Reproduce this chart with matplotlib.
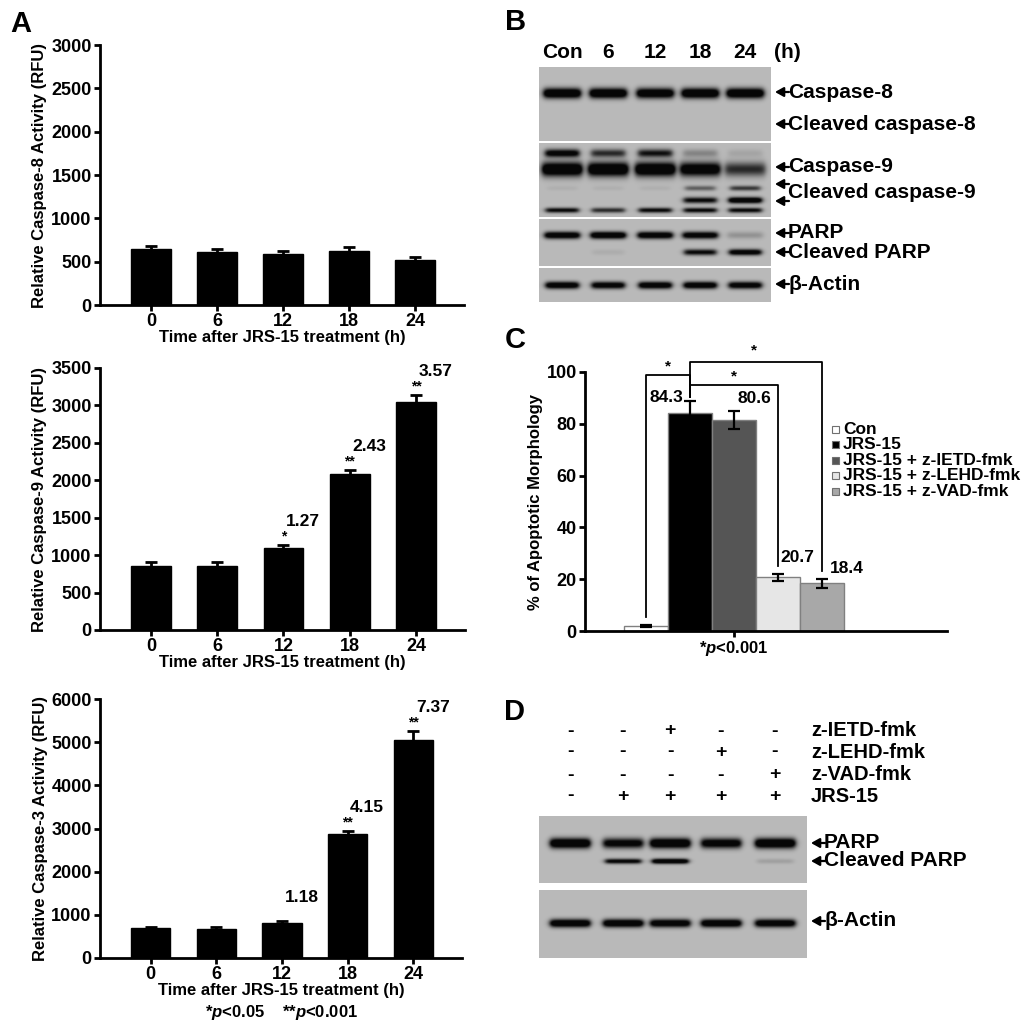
import numpy as np
import matplotlib.pyplot as plt
from matplotlib.patches import Rectangle

plt.rcParams['font.family'] = ['Liberation Sans', 'DejaVu Sans']
plt.rcParams['font.weight'] = 'bold'
plt.rcParams['mathtext.fontset'] = 'custom'
plt.rcParams['mathtext.rm'] = 'Liberation Sans:bold'
plt.rcParams['mathtext.it'] = 'Liberation Sans:italic:bold'

# --- panel A: caspase activity (RFU) ---
hours = ['0', '6', '12', '18', '24']
casp8_mean = [650, 610, 590, 620, 515]
casp8_err = [30, 40, 30, 55, 35]
casp9_mean = [860, 860, 1090, 2085, 3050]
casp9_err = [45, 45, 45, 55, 90]
casp9_fold = ['', '', '1.27', '2.43', '3.57']
casp9_sig = ['', '', '*', '**', '**']
casp3_mean = [700, 670, 815, 2870, 5050]
casp3_err = [25, 55, 45, 75, 210]
casp3_fold = ['', '', '1.18', '4.15', '7.37']
casp3_sig = ['', '', '', '**', '**']

# --- panel B: western blot, band intensity per lane (0 = none, 1 = saturated) ---
lanes_b = ['Con', '6', '12', '18', '24']
casp8_band = [1.0, 1.0, 0.95, 1.0, 1.0]
casp9_upper_band = [0.8, 0.55, 0.65, 0.2, 0.08]
casp9_band = [1.0, 1.0, 1.0, 0.9, 0.55]
cl_casp9_a_band = [0.04, 0.04, 0.04, 0.35, 0.5]
cl_casp9_b_band = [0.0, 0.0, 0.0, 0.7, 0.95]
casp9_low_band = [0.7, 0.55, 0.7, 0.7, 0.7]
parp_b_band = [0.9, 0.95, 0.9, 0.85, 0.15]
cl_parp_b_band = [0.0, 0.05, 0.0, 0.7, 0.85]
actin_b_band = [0.9, 0.85, 0.9, 0.9, 0.85]

# --- panel C: apoptotic morphology (%) ---
groups_c = ['Con', 'JRS-15', 'JRS-15 + z-IETD-fmk', 'JRS-15 + z-LEHD-fmk', 'JRS-15 + z-VAD-fmk']
apop_mean = [2.0, 84.3, 81.5, 20.7, 18.4]
apop_err = [0.4, 4.4, 3.6, 1.3, 1.7]
apop_labels = ['', '84.3', '80.6', '20.7', '18.4']
colors_c = ['white', 'black', '#555555', '#e6e6e6', '#a8a8a8']

# --- panel D: inhibitor treatments and blot ---
treatments_d = ['z-IETD-fmk', 'z-LEHD-fmk', 'z-VAD-fmk', 'JRS-15']
signs_d = [['-', '-', '+', '-', '-'],
           ['-', '-', '-', '+', '-'],
           ['-', '-', '-', '-', '+'],
           ['-', '+', '+', '+', '+']]
parp_d_band = [1.0, 0.8, 1.0, 0.85, 1.0]
cl_parp_d_band = [0.0, 0.75, 0.95, 0.0, 0.1]
actin_d_band = [0.95, 0.95, 0.9, 0.95, 0.9]

W, H = 1024, 1032
fig = plt.figure(figsize=(10.24, 10.32), dpi=100)
bg_ax = fig.add_axes([0, 0, 1, 1])
bg_ax.set_xlim(0, W)
bg_ax.set_ylim(H, 0)
bg_ax.set_autoscale_on(False)
bg_ax.axis('off')


def px_axes(left, top, right, bottom):
    return fig.add_axes([left / W, 1 - bottom / H, (right - left) / W, (bottom - top) / H], facecolor='none')


def style_axes(ax):
    for s in ['top', 'right']:
        ax.spines[s].set_visible(False)
    for s in ['left', 'bottom']:
        ax.spines[s].set_linewidth(2)
    ax.tick_params(width=2, length=4, labelsize=13, pad=2)
    for lab in ax.get_xticklabels() + ax.get_yticklabels():
        lab.set_fontweight('bold')


def activity_panel(box, mean, err, ymax, ystep, ylabel, fold=None, sig=None):
    ax = px_axes(*box)
    x = np.arange(len(hours))
    ax.bar(x, mean, width=0.6, color='black', edgecolor='black')
    ax.errorbar(x, mean, yerr=err, fmt='none', ecolor='black', elinewidth=2, capsize=4, capthick=2)
    ax.set_xlim(-0.77, 4.74)
    ax.set_ylim(0, ymax)
    ax.set_yticks(np.arange(0, ymax + 1, ystep))
    ax.set_xticks(x)
    ax.set_xticklabels(hours)
    style_axes(ax)
    ax.set_xlabel('Time after JRS-15 treatment (h)', fontsize=12, fontweight='bold', labelpad=0)
    ax.set_ylabel(ylabel, fontsize=12, fontweight='bold')
    ax.yaxis.set_label_coords(-0.145, 0.5)
    if fold:
        for i in range(len(hours)):
            top = mean[i] + err[i]
            if sig[i]:
                ax.annotate(sig[i], (i, top), xytext=(0, 1), textcoords='offset points',
                            ha='center', va='bottom', fontsize=10)
            if fold[i]:
                ax.annotate(fold[i], (i, top), xytext=(14, 17), textcoords='offset points',
                            ha='center', va='center', fontsize=12.5)
    return ax


activity_panel((100, 45, 464, 305), casp8_mean, casp8_err, 3000, 500,
               'Relative Caspase-8 Activity (RFU)')
activity_panel((100, 368, 465, 630), casp9_mean, casp9_err, 3500, 500,
               'Relative Caspase-9 Activity (RFU)', casp9_fold, casp9_sig)
activity_panel((100, 699, 462, 958), casp3_mean, casp3_err, 6000, 1000,
               'Relative Caspase-3 Activity (RFU)', casp3_fold, casp3_sig)
bg_ax.text(282, 1012, r'*$\mathit{p}$<0.05    **$\mathit{p}$<0.001', fontsize=12,
           ha='center', va='center')


def draw_blot(box, lanes, bands):
    x0, x1, y0, y1 = box
    xs = np.arange(x0, x1, 0.5)
    ys = np.arange(y0, y1, 0.5)
    X, Y = np.meshgrid(xs, ys)
    dark = np.zeros_like(X)
    for yc, half, width, vals in bands:
        for xc, v in zip(lanes, vals):
            across = 1 / (1 + np.exp((np.abs(X - xc) - width / 2) / 1.6))
            down = np.exp(-((Y - yc) / half) ** 2)
            dark += 1.5 * v * across * down
    img = 0.70 * (1 - np.clip(dark, 0, 1)) + 0.03
    bg_ax.imshow(img, cmap='gray', vmin=0, vmax=1, extent=(x0, x1, y1, y0),
                 aspect='auto', interpolation='bilinear')


def band_arrow(x_tip, y, label=None, text_y=None):
    bg_ax.annotate('', xy=(x_tip, y), xytext=(x_tip + 14, y),
                   arrowprops=dict(arrowstyle='-|>,head_length=0.5,head_width=0.28',
                                   color='black', lw=1.6, shrinkA=0, shrinkB=0))
    if label:
        bg_ax.text(x_tip + 13, y if text_y is None else text_y, label, fontsize=15,
                   ha='left', va='center')


# panel B
lane_x_b = [562, 608, 655, 700, 745]
draw_blot((539, 771, 67, 141), lane_x_b, [(93, 5, 37, casp8_band)])
draw_blot((539, 771, 143, 217), lane_x_b, [(153, 4, 34, casp9_upper_band),
                                           (169, 7, 40, casp9_band),
                                           (188, 2.5, 30, cl_casp9_a_band),
                                           (200, 3, 33, cl_casp9_b_band),
                                           (210, 2.5, 33, casp9_low_band)])
draw_blot((539, 771, 219, 266), lane_x_b, [(235, 3.5, 35, parp_b_band),
                                           (252, 3, 32, cl_parp_b_band)])
draw_blot((539, 771, 268, 302), lane_x_b, [(285, 3.5, 33, actin_b_band)])
for xl, lab in zip(lane_x_b, lanes_b):
    bg_ax.text(xl, 53, lab, fontsize=15, ha='center', va='center')
bg_ax.text(787, 53, '(h)', fontsize=15, ha='center', va='center')
band_arrow(775, 92, 'Caspase-8')
band_arrow(775, 124, 'Cleaved caspase-8')
band_arrow(775, 167, 'Caspase-9')
band_arrow(775, 184)
band_arrow(775, 201, 'Cleaved caspase-9', text_y=193)
band_arrow(775, 233, 'PARP')
band_arrow(775, 252, 'Cleaved PARP')
band_arrow(775, 284, 'β-Actin')

# panel C
axc = px_axes(585, 372, 947, 631)
xc = np.arange(len(groups_c))
axc.bar(xc, apop_mean, width=1.0, color=colors_c, edgecolor='#808080', linewidth=1)
axc.errorbar(xc, apop_mean, yerr=apop_err, fmt='none', ecolor='black', elinewidth=1.6,
             capsize=4, capthick=1.6)
axc.set_xlim(-1.39, 6.84)
axc.set_ylim(0, 100)
axc.set_yticks(np.arange(0, 101, 20))
axc.set_xticks([2])
axc.set_xticklabels([r'*$\mathit{p}$<0.001'])
style_axes(axc)
axc.tick_params(axis='x', labelsize=12)
axc.set_ylabel('% of Apoptotic Morphology', fontsize=12, fontweight='bold')
axc.yaxis.set_label_coords(-0.115, 0.5)

label_dx = [0, -0.53, 0.46, 0.44, 0.56]
label_dy = [0, 1.6, 4.5, 6.2, 4.2]
for i, lab in enumerate(apop_labels):
    if lab:
        axc.text(i + label_dx[i], apop_mean[i] + apop_err[i] + label_dy[i], lab,
                 fontsize=12.5, ha='center', va='center', clip_on=False)

# significance brackets: (from bar, to bar, bracket height)
brackets = [(1, 0, 98.8), (1, 3, 95.0), (1, 4, 103.9)]
star_pos = [(0.49, 99.5), (2.0, 95.6), (2.46, 105.5)]
for (a, b, h), (sx, sy) in zip(brackets, star_pos):
    ya = apop_mean[a] + apop_err[a] + 1.6
    yb = apop_mean[b] + apop_err[b] + 3.0
    axc.plot([a, a, b, b], [ya, h, h, yb], color='black', lw=1.3, clip_on=False)
    axc.text(sx, sy, '*', fontsize=11, ha='center', va='bottom', clip_on=False)

for i, (g, col) in enumerate(zip(groups_c, colors_c)):
    yy = 429 + 15.6 * i
    bg_ax.add_patch(Rectangle((832, yy - 3.5), 7, 7, facecolor=col, edgecolor='#707070', lw=0.8))
    bg_ax.text(843, yy, g, fontsize=12.5, ha='left', va='center')

# panel D
lane_x_d = [570, 623, 670, 721, 775]
for r, (treat, row) in enumerate(zip(treatments_d, signs_d)):
    yy = [731, 752, 775, 796][r]
    for xl, s in zip(lane_x_d, row):
        bg_ax.text(xl, yy, s, fontsize=14, ha='center', va='center')
    bg_ax.text(811, yy, treat, fontsize=14.5, ha='left', va='center')
draw_blot((539, 807, 816, 883), lane_x_d, [(843, 5, 40, parp_d_band),
                                           (861, 2.5, 36, cl_parp_d_band)])
draw_blot((539, 807, 890, 958), lane_x_d, [(923, 4, 40, actin_d_band)])
band_arrow(811, 843, 'PARP')
band_arrow(811, 861, 'Cleaved PARP')
band_arrow(811, 921, 'β-Actin')

# panel letters
for letter, (lx, ly) in zip('ABCD', [(21, 24), (516, 22), (515, 340), (514, 712)]):
    bg_ax.text(lx, ly, letter, fontsize=21, ha='center', va='center')

fig.savefig('out.png', dpi=100)
